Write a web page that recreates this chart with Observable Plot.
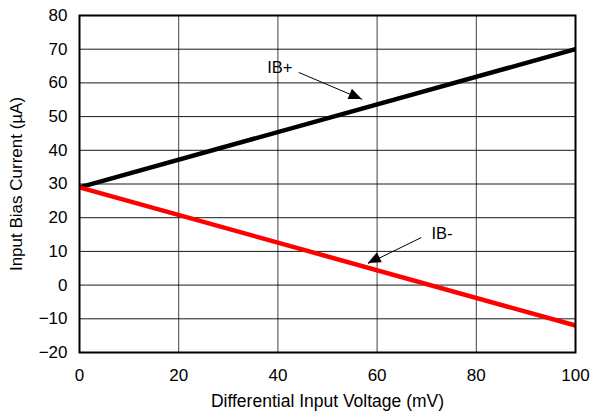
<!DOCTYPE html>
<html>
<head>
<meta charset="utf-8">
<script src="https://cdn.jsdelivr.net/npm/d3@7"></script>
<script src="https://cdn.jsdelivr.net/npm/@observablehq/plot@0.6"></script>
<style>
  html, body { margin: 0; padding: 0; background: #fff; }
  #chart svg { display: block; }
</style>
</head>
<body>
<div id="chart"></div>
<script>
// Data
const voltage = [0, 100];                 // Differential Input Voltage (mV)
const ibPlus = [29, 70];                  // IB+ (µA)
const ibMinus = [29, -12];                // IB- (µA)
const xTicks = [0, 20, 40, 60, 80, 100];
const yTicks = [-20, -10, 0, 10, 20, 30, 40, 50, 60, 70, 80];
const seriesNames = ["IB+", "IB-"];
const seriesColors = ["#000000", "#ff0000"];
// Annotations: label position, arrow start, arrow tip (data units)
const annLabelX = [40.4, 73.1];
const annLabelY = [64.6, 15.3];
const annFromX = [44.2, 68.9];
const annFromY = [63.1, 14.1];
const annToX = [57.0, 58.2];
const annToY = [55.1, 6.4];

const rows = [];
seriesNames.forEach((s, si) => {
  const vals = si === 0 ? ibPlus : ibMinus;
  voltage.forEach((v, i) => rows.push({series: s, x: v, y: vals[i]}));
});
const ann = seriesNames.map((s, i) => ({
  label: s, lx: annLabelX[i], ly: annLabelY[i],
  x1: annFromX[i], y1: annFromY[i], x2: annToX[i], y2: annToY[i]
}));

const headLen = 13, headHalf = 5.5;

function arrowHeads(index, scales) {
  const g = d3.create("svg:g").attr("fill", "#000");
  for (const a of ann) {
    const x1 = scales.x(a.x1), y1 = scales.y(a.y1);
    const x2 = scales.x(a.x2), y2 = scales.y(a.y2);
    const dx = x2 - x1, dy = y2 - y1, L = Math.hypot(dx, dy);
    const ux = dx / L, uy = dy / L;
    const bx = x2 - ux * headLen, by = y2 - uy * headLen;
    const px = -uy * headHalf, py = ux * headHalf;
    g.append("path").attr("d",
      `M${x2},${y2}L${bx + px},${by + py}L${bx - px},${by - py}Z`);
  }
  return g.node();
}

const chart = Plot.plot({
  width: 592,
  height: 412,
  marginLeft: 79,
  marginRight: 17,
  marginTop: 15,
  marginBottom: 60,
  style: {fontFamily: "'Liberation Sans', Arial, sans-serif", fontSize: "17px", color: "#000", background: "#fff"},
  x: {domain: [0, 100], ticks: xTicks},
  y: {domain: [-20, 80], ticks: yTicks},
  marks: [
    Plot.gridX(xTicks, {stroke: "#000", strokeOpacity: 0.75, strokeWidth: 1}),
    Plot.gridY(yTicks, {stroke: "#000", strokeOpacity: 0.9, strokeWidth: 1}),
    Plot.axisX(xTicks, {tickSize: 0, tickPadding: 16, fontSize: 17, label: null}),
    Plot.axisY(yTicks, {tickSize: 0, tickPadding: 12, fontSize: 17, label: null}),
    Plot.axisX({tickSize: 0, ticks: [], fontSize: 17.5,
      label: "Differential Input Voltage (mV)", labelAnchor: "center", labelArrow: "none", labelOffset: 54}),
    Plot.axisY({tickSize: 0, ticks: [], fontSize: 17,
      label: "Input Bias Current (µA)", labelAnchor: "center", labelArrow: "none", labelOffset: 70}),
    Plot.line(rows, {x: "x", y: "y", z: "series",
      stroke: d => seriesColors[seriesNames.indexOf(d.series)], strokeWidth: 4.5, strokeLinecap: "butt"}),
    Plot.frame({stroke: "#000", strokeWidth: 2}),
    Plot.link(ann, {x1: "x1", y1: "y1", x2: "x2", y2: "y2", stroke: "#000", strokeWidth: 1}),
    arrowHeads,
    Plot.text(ann, {x: "lx", y: "ly", text: "label", fontSize: 16.5, fill: "#000"})
  ]
});
document.getElementById("chart").appendChild(chart);
</script>
</body>
</html>
